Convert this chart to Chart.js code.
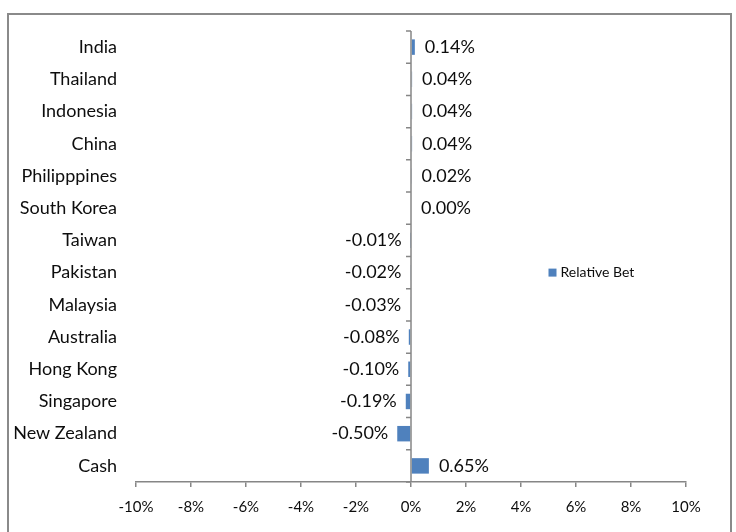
<!DOCTYPE html>
<html>
<head>
<meta charset="utf-8">
<script src="https://cdn.jsdelivr.net/npm/chart.js@4"></script>
<style>
  html, body { margin: 0; padding: 0; background: #fff; }
  #wrap { position: relative; width: 736px; height: 532px; overflow: hidden; }
  #frame { position: absolute; left: 7px; top: 13px; width: 721px; height: 540px; border: 2px solid #8a8a8a; pointer-events: none; }
  canvas { position: absolute; left: 0; top: 0; }
</style>
</head>
<body>
<div id="wrap">
  <canvas id="betChart" width="736" height="532"></canvas>
  <div id="frame"></div>
</div>
<script>
(() => {
  'use strict';

  const countries = ['India', 'Thailand', 'Indonesia', 'China', 'Philipppines', 'South Korea', 'Taiwan',
    'Pakistan', 'Malaysia', 'Australia', 'Hong Kong', 'Singapore', 'New Zealand', 'Cash'];
  const relativeBet = [0.14, 0.04, 0.04, 0.04, 0.02, 0.00, -0.01, -0.02, -0.03, -0.08, -0.10, -0.19, -0.50, 0.65];
  const xTicks = [-10, -8, -6, -4, -2, 0, 2, 4, 6, 8, 10];
  const seriesName = 'Relative Bet';

  const FONT = 'Lato, "Open Sans", sans-serif';
  const BAR = '#4f81bd';
  const AXIS = '#868686';
  const TEXT = '#0d0d0d';

  // vertical zero axis with category tick marks
  const zeroAxis = {
    id: 'zeroAxis',
    afterDatasetsDraw(chart) {
      const { ctx, scales: { x, y } } = chart;
      const x0 = x.getPixelForValue(0);
      ctx.save();
      ctx.strokeStyle = AXIS;
      ctx.lineWidth = 1.5;
      ctx.beginPath();
      ctx.moveTo(x0, chart.chartArea.top);
      ctx.lineTo(x0, chart.chartArea.bottom);
      for (let i = 0; i <= countries.length; i++) {
        const yy = y.getPixelForValue(i - 0.5);
        ctx.moveTo(x0, yy);
        ctx.lineTo(x0 - 5, yy);
      }
      ctx.stroke();
      ctx.restore();
    }
  };

  // value labels beside the bars
  const valueLabels = {
    id: 'valueLabels',
    afterDatasetsDraw(chart) {
      const { ctx } = chart;
      const meta = chart.getDatasetMeta(0);
      ctx.save();
      ctx.font = '18px ' + FONT;
      ctx.fillStyle = TEXT;
      ctx.textBaseline = 'middle';
      meta.data.forEach((bar, i) => {
        const v = relativeBet[i];
        const txt = v.toFixed(2) + '%';
        if (v < 0) {
          ctx.textAlign = 'right';
          ctx.fillText(txt, bar.x - 9, bar.y);
        } else {
          ctx.textAlign = 'left';
          ctx.fillText(txt, bar.x + 10, bar.y);
        }
      });
      ctx.restore();
    }
  };

  // legend box placed at the right of the plot
  const sideLegend = {
    id: 'sideLegend',
    afterDraw(chart) {
      const { ctx, scales: { x, y } } = chart;
      const lx = x.getPixelForValue(5.0);
      const ly = y.getPixelForValue(7);
      ctx.save();
      ctx.fillStyle = BAR;
      ctx.fillRect(lx, ly - 4, 8, 8);
      ctx.fillStyle = TEXT;
      ctx.font = '14px ' + FONT;
      ctx.textAlign = 'left';
      ctx.textBaseline = 'middle';
      ctx.fillText(seriesName, lx + 12, ly);
      ctx.restore();
    }
  };

  new Chart(document.getElementById('betChart').getContext('2d'), {
    type: 'bar',
    data: {
      labels: countries,
      datasets: [{
        label: seriesName,
        data: relativeBet,
        backgroundColor: BAR,
        borderWidth: 0,
        categoryPercentage: 1,
        barPercentage: 0.48,
      }],
    },
    options: {
      indexAxis: 'y',
      responsive: false,
      animation: false,
      layout: { padding: { top: 31, right: 50, left: 0, bottom: 0 } },
      plugins: { legend: { display: false }, tooltip: { enabled: false } },
      scales: {
        x: {
          min: -10,
          max: 10,
          afterBuildTicks: (s) => { s.ticks = xTicks.map(v => ({ value: v })); },
          afterFit: (s) => { s.height = 50; },
          border: { display: true, color: AXIS, width: 1.5 },
          grid: { drawOnChartArea: false, drawTicks: true, tickLength: 5, color: AXIS, lineWidth: 1.5 },
          ticks: { color: TEXT, font: { family: FONT, size: 15 }, padding: 11, callback: v => v + '%' },
        },
        y: {
          afterFit: (s) => { s.width = 136; },
          border: { display: false },
          grid: { display: false, drawTicks: false },
          ticks: { color: TEXT, font: { family: FONT, size: 18 }, padding: 19 },
        },
      },
    },
    plugins: [zeroAxis, valueLabels, sideLegend],
  });
})();
</script>
</body>
</html>
